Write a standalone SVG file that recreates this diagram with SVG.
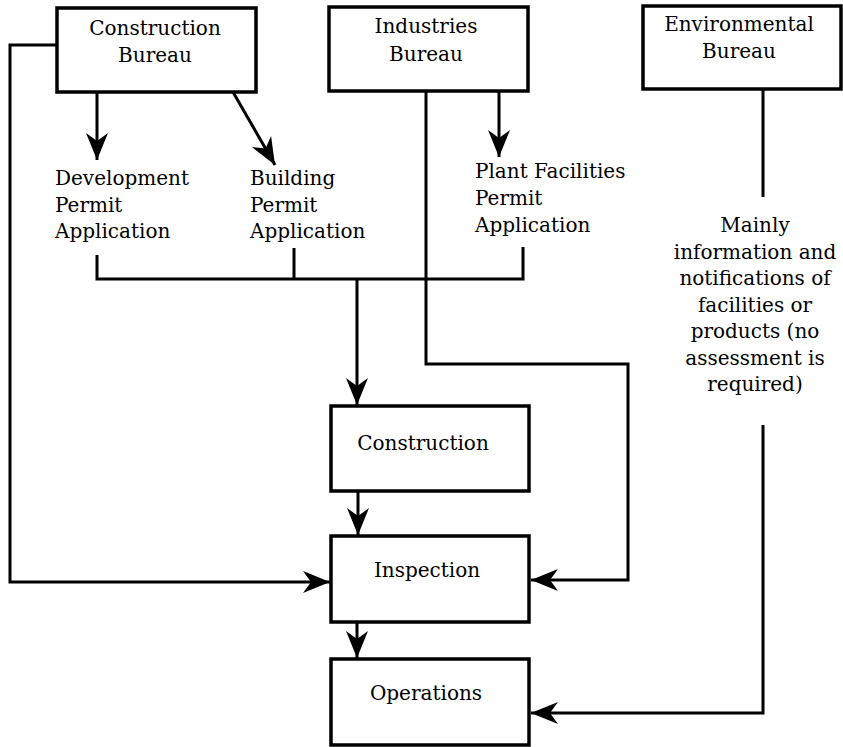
<svg xmlns="http://www.w3.org/2000/svg" width="843" height="747" viewBox="0 0 843 747">
<style>
.box{fill:#fff;stroke:#000;stroke-width:3.5}
.ln{fill:none;stroke:#000;stroke-width:3}
text{font-family:"DejaVu Serif","Liberation Serif",serif;font-size:20px;fill:#000}
.c{text-anchor:middle}
</style>
<defs>
<marker id="ah" viewBox="-28 -12 29 24" refX="0" refY="0" markerWidth="29" markerHeight="24" markerUnits="userSpaceOnUse" orient="auto">
<path d="M0,0 L-27,-11 L-19,0 L-27,11 Z" fill="#000"/>
</marker>
</defs>
<rect width="843" height="747" fill="#fff"/>
<g id="connectors">
<path class="ln" d="M57,45 H10 V582 H330" marker-end="url(#ah)"/>
<path class="ln" d="M97,92 V160" marker-end="url(#ah)"/>
<path class="ln" d="M233,92 L275,165" marker-end="url(#ah)"/>
<path class="ln" d="M426,91 V364 H628 V580 H531" marker-end="url(#ah)"/>
<path class="ln" d="M499,91 V157" marker-end="url(#ah)"/>
<path class="ln" d="M763,89 V197"/>
<path class="ln" d="M763,425 V713 H531" marker-end="url(#ah)"/>
<path class="ln" d="M97,255 V279 H523 V247"/>
<path class="ln" d="M294,248 V279"/>
<path class="ln" d="M357,279 V405" marker-end="url(#ah)"/>
<path class="ln" d="M358,491 V535" marker-end="url(#ah)"/>
<path class="ln" d="M357,622 V658" marker-end="url(#ah)"/>
</g>
<g id="construction-bureau">
<rect class="box" x="57" y="8" width="199" height="84"/>
<text class="c" x="155" y="35">Construction</text>
<text class="c" x="155" y="62">Bureau</text>
</g>
<g id="industries-bureau">
<rect class="box" x="329" y="7" width="199" height="84"/>
<text class="c" x="426" y="33">Industries</text>
<text class="c" x="426" y="61">Bureau</text>
</g>
<g id="environmental-bureau">
<rect class="box" x="643" y="6" width="198" height="83"/>
<text class="c" x="739" y="31">Environmental</text>
<text class="c" x="739" y="58">Bureau</text>
</g>
<g id="development-permit">
<text x="55" y="185">Development</text>
<text x="55" y="212">Permit</text>
<text x="55" y="238">Application</text>
</g>
<g id="building-permit">
<text x="250" y="185">Building</text>
<text x="250" y="212">Permit</text>
<text x="250" y="238">Application</text>
</g>
<g id="plant-facilities-permit">
<text x="475" y="178">Plant Facilities</text>
<text x="475" y="205">Permit</text>
<text x="475" y="232">Application</text>
</g>
<g id="environmental-note">
<text class="c" x="755" y="232">Mainly</text>
<text class="c" x="755" y="259">information and</text>
<text class="c" x="755" y="285">notifications of</text>
<text class="c" x="755" y="312">facilities or</text>
<text class="c" x="755" y="338">products (no</text>
<text class="c" x="755" y="365">assessment is</text>
<text class="c" x="755" y="391">required)</text>
</g>
<g id="construction">
<rect class="box" x="331" y="406" width="198" height="85"/>
<text class="c" x="423" y="450">Construction</text>
</g>
<g id="inspection">
<rect class="box" x="331" y="536" width="198" height="86"/>
<text class="c" x="427" y="577">Inspection</text>
</g>
<g id="operations">
<rect class="box" x="331" y="659" width="198" height="86"/>
<text class="c" x="426" y="700">Operations</text>
</g>
</svg>
